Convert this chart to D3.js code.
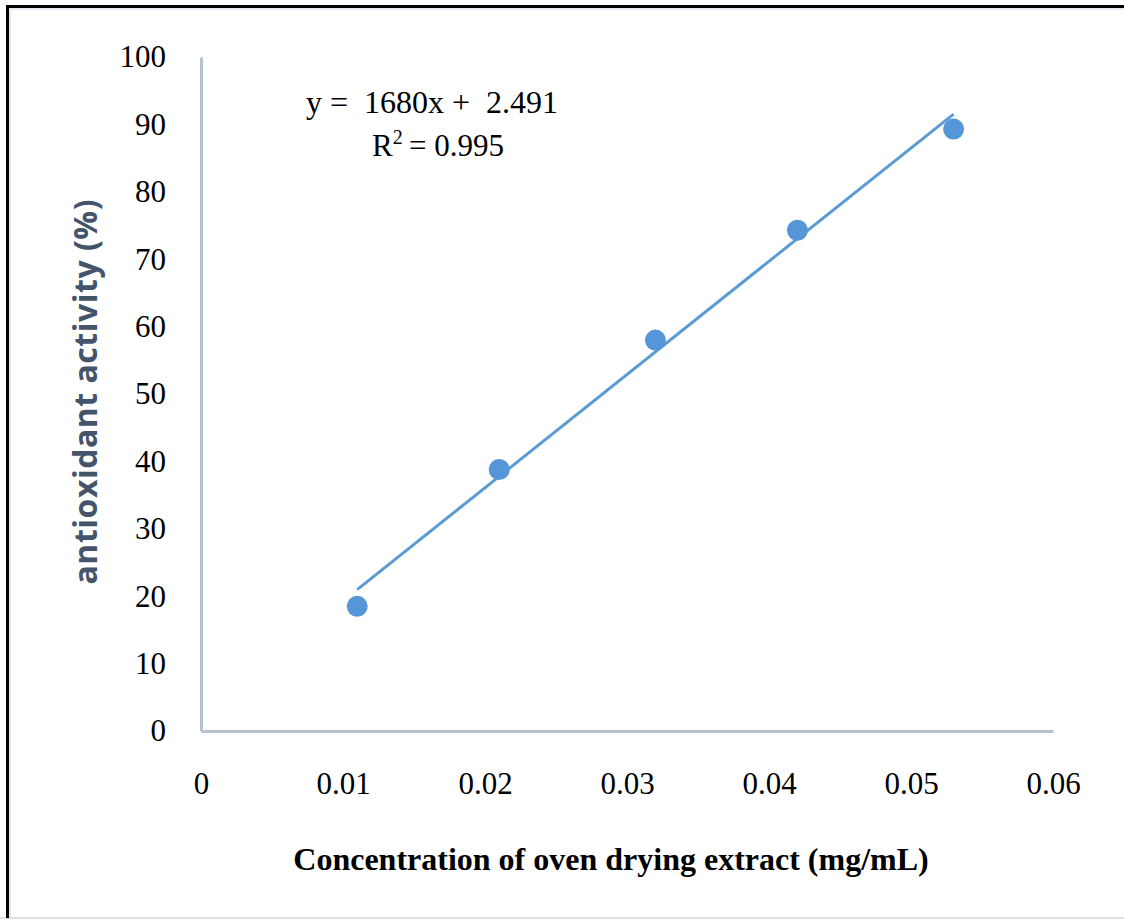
<!DOCTYPE html>
<html>
<head>
<meta charset="utf-8">
<script src="https://cdn.jsdelivr.net/npm/d3@7"></script>
<style>
  body { margin: 0; background: #fff; }
  svg text { font-family: "Liberation Serif", "Times New Roman", serif; fill: #000; }
</style>
</head>
<body>
<div class="chart_container"></div>
<script>
// data
const concentrations = [0.011, 0.021, 0.032, 0.042, 0.053];
const activity = [18.5, 38.8, 58.0, 74.3, 89.3];
const xTicks = [0, 0.01, 0.02, 0.03, 0.04, 0.05, 0.06];
const yTicks = [0, 10, 20, 30, 40, 50, 60, 70, 80, 90, 100];
const slope = 1680;
const intercept = 2.491;
const rSquared = 0.995;

const width = 1124;
const height = 920;

const svg = d3.select('div.chart_container').append('svg')
  .attr('width', width)
  .attr('height', height);

// frame
svg.append('rect').attr('x', 10).attr('y', 9).attr('width', width).attr('height', 909)
  .attr('fill', 'none').attr('stroke', '#e3e8f1').attr('stroke-width', 2);
svg.append('line').attr('x1', 0).attr('x2', width).attr('y1', 918).attr('y2', 918)
  .attr('stroke', '#e0e0e0').attr('stroke-width', 2);
svg.append('line').attr('x1', 6).attr('x2', width).attr('y1', 6.5).attr('y2', 6.5)
  .attr('stroke', '#000').attr('stroke-width', 3);
svg.append('line').attr('x1', 7.5).attr('x2', 7.5).attr('y1', 5).attr('y2', 918)
  .attr('stroke', '#000').attr('stroke-width', 3);

const xScale = d3.scaleLinear().domain([0, 0.06]).range([201, 1053]);
const yScale = d3.scaleLinear().domain([0, 100]).range([731, 57]);

const axisColor = '#b5c0d1';

const xAxis = svg.append('g')
  .attr('transform', `translate(0,${yScale(0)})`)
  .call(d3.axisBottom(xScale).tickValues(xTicks).tickSize(0).tickPadding(41)
    .tickFormat(d => d === 0 ? '0' : d3.format('.2f')(d)));
xAxis.select('.domain').attr('stroke', axisColor).attr('stroke-width', 3);
xAxis.selectAll('text').attr('font-size', 31).attr('font-family', '"Liberation Serif", serif').attr('fill', '#000');

const yAxis = svg.append('g')
  .attr('transform', `translate(${xScale(0)},0)`)
  .call(d3.axisLeft(yScale).tickValues(yTicks).tickSize(0).tickPadding(35));
yAxis.select('.domain').attr('stroke', axisColor).attr('stroke-width', 3);
yAxis.selectAll('text').attr('font-size', 31).attr('font-family', '"Liberation Serif", serif').attr('fill', '#000');

// trend line
const xMin = d3.min(concentrations);
const xMax = d3.max(concentrations);
svg.append('line')
  .attr('x1', xScale(xMin)).attr('y1', yScale(slope * xMin + intercept))
  .attr('x2', xScale(xMax)).attr('y2', yScale(slope * xMax + intercept))
  .attr('stroke', '#5b9bd5').attr('stroke-width', 3);

// points
svg.selectAll('circle.pt')
  .data(concentrations).enter().append('circle')
  .attr('class', 'pt')
  .attr('cx', d => xScale(d))
  .attr('cy', (d, i) => yScale(activity[i]))
  .attr('r', 10.5)
  .attr('fill', '#5596d8');

// equation
svg.append('text')
  .attr('x', 432).attr('y', 113)
  .attr('text-anchor', 'middle').attr('font-size', 32)
  .attr('xml:space', 'preserve')
  .text(`y =  ${slope}x +  ${intercept}`);
const r2 = svg.append('text')
  .attr('x', 438).attr('y', 156)
  .attr('text-anchor', 'middle').attr('font-size', 31);
r2.append('tspan').text('R');
r2.append('tspan').attr('font-size', 20).attr('dy', -12).text('2');
r2.append('tspan').attr('dy', 12).text(`\u2009= ${rSquared}`);

// axis titles
svg.append('text')
  .attr('x', 611).attr('y', 870)
  .attr('text-anchor', 'middle')
  .attr('font-size', 32).attr('font-weight', 'bold')
  .text('Concentration of oven drying extract (mg/mL)');

svg.append('text')
  .attr('transform', 'translate(97,392) rotate(-90)')
  .attr('text-anchor', 'middle')
  .style('font-family', '"Open Sans", sans-serif')
  .attr('font-size', 32).attr('font-weight', 'bold')
  .attr('textLength', 385).attr('lengthAdjust', 'spacing')
  .style('fill', '#44546a')
  .text('antioxidant activity (%)');
</script>
</body>
</html>
